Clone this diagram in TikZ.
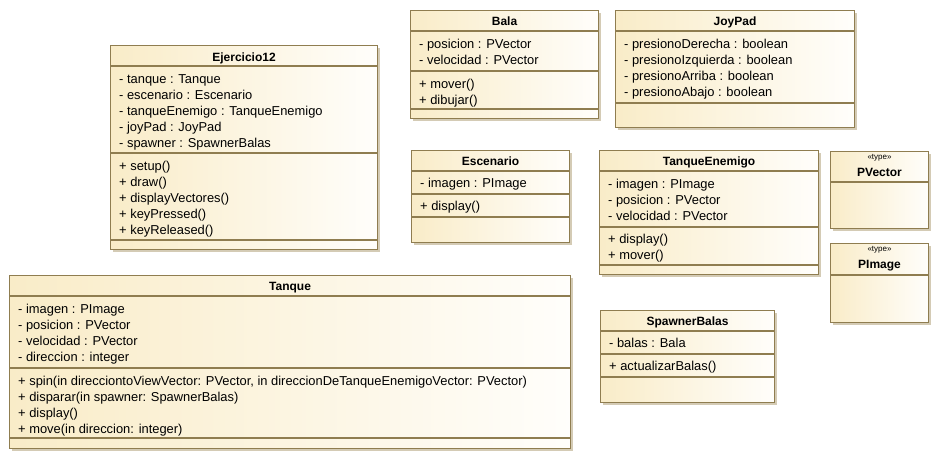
\documentclass[tikz,border=0pt]{standalone}
\usepackage{fontspec}
\setmainfont{Liberation Sans}
\usepackage{tikz}
\usetikzlibrary{shadows}

\definecolor{umlborder}{RGB}{143,125,80}
\definecolor{umlfill}{RGB}{249,236,200}
\definecolor{umlwhite}{RGB}{255,254,251}
\definecolor{umlshadow}{RGB}{212,203,181}

\begin{document}
\begin{tikzpicture}[x=1pt,y=-1pt,
    class/.style={draw=umlborder,line width=1.1pt,left color=umlfill,right color=umlwhite,
      drop shadow={shadow xshift=2.5pt,shadow yshift=-2.5pt,fill=umlshadow,opacity=1},
      anchor=north west,inner sep=0pt},
    title/.style={font=\fontsize{12}{16}\selectfont\bfseries,anchor=base,inner sep=0pt},
    stereo/.style={font=\fontsize{8}{9}\selectfont,anchor=base,inner sep=0pt},
    members/.style={font=\fontsize{12.9}{16}\selectfont,align=left,anchor=north west,inner sep=0pt},
    sep/.style={draw=umlborder,line width=1.1pt}]
  \useasboundingbox (0,0) rectangle (940,459);

  % Ejercicio12
  \node[class,minimum width=267pt,minimum height=204pt] (ejercicio) at (110,45) {};
  \foreach \y in {66,153,240}
    \draw[sep] (ejercicio.west |- 0,\y) -- (ejercicio.east |- 0,\y);
  \node[title] (ejercicio-t) at (ejercicio.north |- 0,61) {Ejercicio12};
  \node[members] (ejercicio-a) at (119,72) {\strut- tanque : Tanque\\- escenario : Escenario\\
    - tanqueEnemigo : TanqueEnemigo\\- joyPad : JoyPad\\- spawner : SpawnerBalas};
  \node[members] (ejercicio-m) at (119,159) {\strut+ setup()\\+ draw()\\+ displayVectores()\\
    + keyPressed()\\+ keyReleased()};

  % Bala
  \node[class,minimum width=188pt,minimum height=108pt] (bala) at (410,10) {};
  \foreach \y in {31,71,109}
    \draw[sep] (bala.west |- 0,\y) -- (bala.east |- 0,\y);
  \node[title] (bala-t) at (bala.north |- 0,25.5) {Bala};
  \node[members] (bala-a) at (419,37) {\strut- posicion : PVector\\- velocidad : PVector};
  \node[members] (bala-m) at (419,77) {\strut+ mover()\\+ dibujar()};

  % JoyPad
  \node[class,minimum width=239pt,minimum height=117pt] (joypad) at (615,10) {};
  \foreach \y in {31,103}
    \draw[sep] (joypad.west |- 0,\y) -- (joypad.east |- 0,\y);
  \node[title] (joypad-t) at (joypad.north |- 0,25.5) {JoyPad};
  \node[members] (joypad-a) at (624,37) {\strut- presionoDerecha : boolean\\
    - presionoIzquierda : boolean\\- presionoArriba : boolean\\- presionoAbajo : boolean};

  % Escenario
  \node[class,minimum width=158pt,minimum height=92pt] (escenario) at (411,150) {};
  \foreach \y in {171,194,217}
    \draw[sep] (escenario.west |- 0,\y) -- (escenario.east |- 0,\y);
  \node[title] (escenario-t) at (escenario.north |- 0,165.5) {Escenario};
  \node[members] (escenario-a) at (420,176) {\strut- imagen : PImage};
  \node[members] (escenario-m) at (420,199) {\strut+ display()};

  % TanqueEnemigo
  \node[class,minimum width=219pt,minimum height=124pt] (enemigo) at (599,150) {};
  \foreach \y in {171,227,265}
    \draw[sep] (enemigo.west |- 0,\y) -- (enemigo.east |- 0,\y);
  \node[title] (enemigo-t) at (enemigo.north |- 0,165.5) {TanqueEnemigo};
  \node[members] (enemigo-a) at (608,177) {\strut- imagen : PImage\\- posicion : PVector\\
    - velocidad : PVector};
  \node[members] (enemigo-m) at (608,232) {\strut+ display()\\+ mover()};

  % tipos
  \node[class,minimum width=98pt,minimum height=77pt] (pvector) at (830,151) {};
  \draw[sep] (pvector.west |- 0,182) -- (pvector.east |- 0,182);
  \node[stereo] (pvector-s) at (pvector.north |- 0,159) {<<type>>};
  \node[title] (pvector-t) at (pvector.north |- 0,176) {PVector};

  \node[class,minimum width=98pt,minimum height=79pt] (pimage) at (830,243) {};
  \draw[sep] (pimage.west |- 0,275) -- (pimage.east |- 0,275);
  \node[stereo] (pimage-s) at (pimage.north |- 0,251) {<<type>>};
  \node[title] (pimage-t) at (pimage.north |- 0,268) {PImage};

  % Tanque
  \node[class,minimum width=561pt,minimum height=173pt] (tanque) at (9,275) {};
  \foreach \y in {296,368,438}
    \draw[sep] (tanque.west |- 0,\y) -- (tanque.east |- 0,\y);
  \node[title] (tanque-t) at (tanque.north |- 0,290.5) {Tanque};
  \node[members] (tanque-a) at (18,302) {\strut- imagen : PImage\\- posicion : PVector\\
    - velocidad : PVector\\- direccion : integer};
  \node[members] (tanque-m) at (18,374) {\strut+ spin(in direcciontoViewVector: PVector, in direccionDeTanqueEnemigoVector: PVector)\\
    + disparar(in spawner: SpawnerBalas)\\+ display()\\+ move(in direccion: integer)};

  % SpawnerBalas
  \node[class,minimum width=174pt,minimum height=92pt] (spawner) at (600,310) {};
  \foreach \y in {331,354,377}
    \draw[sep] (spawner.west |- 0,\y) -- (spawner.east |- 0,\y);
  \node[title] (spawner-t) at (spawner.north |- 0,325.5) {SpawnerBalas};
  \node[members] (spawner-a) at (609,336) {\strut- balas : Bala};
  \node[members] (spawner-m) at (609,359) {\strut+ actualizarBalas()};
\end{tikzpicture}
\end{document}
